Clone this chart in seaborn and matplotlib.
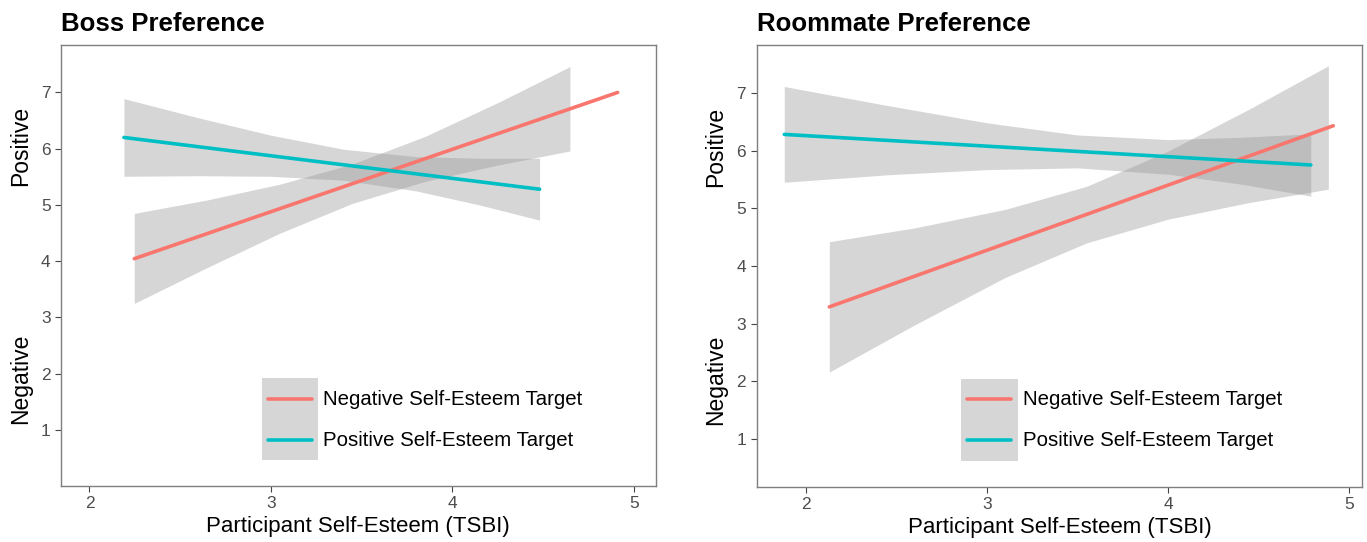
import numpy as np
import pandas as pd
import matplotlib.pyplot as plt
import seaborn as sns
from matplotlib.patches import Patch
from matplotlib.lines import Line2D
from matplotlib.legend_handler import HandlerTuple, HandlerLine2D

sns.set_theme(style='ticks')
plt.rcParams['font.family'] = ['Liberation Sans', 'DejaVu Sans']
plt.rcParams['text.color'] = 'black'
plt.rcParams['axes.labelcolor'] = 'black'

targets = ['Negative Self-Esteem Target', 'Positive Self-Esteem Target']
colors = ['#F8766D', '#00BFC4']

# Boss preference: fitted lines
boss_neg_x = [2.247, 4.91]
boss_neg_y = [4.045, 7.0]
boss_pos_x = [2.19, 4.48]
boss_pos_y = [6.2, 5.28]
# Boss preference: confidence bands
boss_neg_band_x = [2.247, 2.65, 3.05, 3.45, 3.85, 4.25, 4.647]
boss_neg_lo = [3.25, 3.89, 4.50, 5.03, 5.42, 5.71, 5.96]
boss_neg_hi = [4.85, 5.09, 5.37, 5.73, 6.22, 6.82, 7.46]
boss_pos_band_x = [2.19, 2.6, 3.0, 3.4, 3.8, 4.15, 4.48]
boss_pos_lo = [5.51, 5.52, 5.51, 5.44, 5.25, 5.00, 4.73]
boss_pos_hi = [6.89, 6.55, 6.24, 5.99, 5.86, 5.83, 5.83]

# Roommate preference: fitted lines
room_neg_x = [2.127, 4.914]
room_neg_y = [3.29, 6.43]
room_pos_x = [1.878, 4.79]
room_pos_y = [6.28, 5.75]
# Roommate preference: confidence bands
room_neg_band_x = [2.127, 2.6, 3.1, 3.55, 4.0, 4.45, 4.887]
room_neg_lo = [2.16, 2.98, 3.80, 4.40, 4.81, 5.10, 5.33]
room_neg_hi = [4.42, 4.66, 4.98, 5.38, 5.99, 6.72, 7.47]
room_pos_band_x = [1.878, 2.45, 3.0, 3.5, 4.0, 4.4, 4.79]
room_pos_lo = [5.45, 5.58, 5.67, 5.70, 5.59, 5.42, 5.21]
room_pos_hi = [7.11, 6.78, 6.48, 6.27, 6.19, 6.23, 6.29]


class CenteredLine(HandlerLine2D):
    # put the key line in the middle of the grey key box
    def create_artists(self, legend, orig_handle, xdescent, ydescent,
                       width, height, fontsize, trans):
        return super().create_artists(legend, orig_handle, xdescent, 2 * ydescent,
                                      width, height, fontsize, trans)


fig = plt.figure(figsize=(13.67, 5.42), dpi=100)
ax1 = fig.add_axes([0.0446, 0.1033, 0.4351, 0.8137])
ax2 = fig.add_axes([0.5535, 0.1015, 0.4431, 0.8155])


def draw_panel(ax, title, neg_x, neg_y, pos_x, pos_y, bands, xlim, ylim):
    for bx, lo, hi in bands:
        ax.fill_between(bx, lo, hi, color='#999999', alpha=0.4, lw=0, zorder=1)
    df = pd.DataFrame({
        'tsbi': neg_x + pos_x,
        'pref': neg_y + pos_y,
        'target': [targets[0]] * len(neg_x) + [targets[1]] * len(pos_x),
    })
    sns.lineplot(data=df, x='tsbi', y='pref', hue='target', hue_order=targets,
                 palette=colors, lw=2.6, legend=False, ax=ax, zorder=3)
    ax.set_xlim(*xlim)
    ax.set_ylim(*ylim)
    ax.set_xticks([2, 3, 4, 5])
    ax.set_yticks([1, 2, 3, 4, 5, 6, 7])
    ax.set_xlabel('Participant Self-Esteem (TSBI)', fontsize=16, labelpad=3)
    ax.set_ylabel('')
    ax.set_title(title, loc='left', fontsize=18.5, fontweight='bold', pad=10)
    for s in ax.spines.values():
        s.set_visible(True)
        s.set_color('#7f7f7f')
        s.set_linewidth(1.0)
    ax.tick_params(direction='out', length=4, width=0.8, color='#444444',
                   labelcolor='#4d4d4d', labelsize=12.5)
    ax.text(-0.068, 0.77, 'Positive', rotation=90, ha='center', va='center',
            fontsize=16.5, transform=ax.transAxes)
    ax.text(-0.068, 0.243, 'Negative', rotation=90, ha='center', va='center',
            fontsize=16.5, transform=ax.transAxes)

    handles = [(Patch(facecolor='#999999', alpha=0.4, lw=0),
                Line2D([], [], color=c, lw=2.6)) for c in colors]
    ax.legend(handles, targets,
              handler_map={tuple: HandlerTuple(ndivide=1, pad=0), Line2D: CenteredLine()},
              loc='upper left', bbox_to_anchor=(0.338, 0.245), frameon=False,
              fontsize=14.7, handlelength=2.75, handleheight=2.72, labelspacing=0,
              handletextpad=0.25, borderpad=0, borderaxespad=0, numpoints=2)


draw_panel(ax1, 'Boss Preference', boss_neg_x, boss_neg_y, boss_pos_x, boss_pos_y,
           [(boss_neg_band_x, boss_neg_lo, boss_neg_hi),
            (boss_pos_band_x, boss_pos_lo, boss_pos_hi)],
           (1.843, 5.12), (0.004, 7.844))
draw_panel(ax2, 'Roommate Preference', room_neg_x, room_neg_y, room_pos_x, room_pos_y,
           [(room_neg_band_x, room_neg_lo, room_neg_hi),
            (room_pos_band_x, room_pos_lo, room_pos_hi)],
           (1.725, 5.075), (0.168, 7.83))

fig.savefig('out.png', dpi=100)
